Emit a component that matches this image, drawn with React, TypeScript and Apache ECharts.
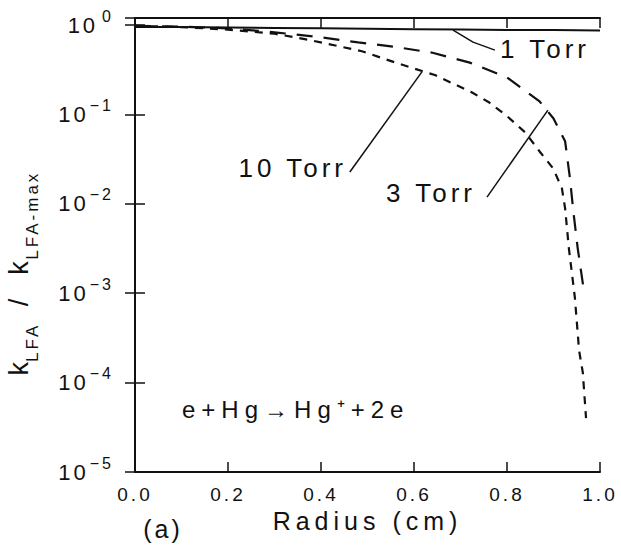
import React, { useEffect, useRef } from 'react';
import * as echarts from 'echarts';

// Normalized LFA ionization rate vs. radius, [radius (cm), k/kmax]
const torr1: number[][] = [
  [0, 0.95], [0.1, 0.95], [0.2, 0.94], [0.3, 0.93], [0.4, 0.92], [0.5, 0.91],
  [0.6, 0.9], [0.7, 0.89], [0.8, 0.88], [0.9, 0.88], [1.0, 0.87],
];
const torr3: number[][] = [
  [0, 0.98], [0.1, 0.96], [0.2, 0.92], [0.3, 0.83], [0.4, 0.73], [0.48, 0.64],
  [0.56, 0.57], [0.64, 0.49], [0.72, 0.38], [0.8, 0.26], [0.87, 0.14], [0.9, 0.09],
  [0.925, 0.05], [0.935, 0.02], [0.943, 0.008], [0.952, 0.0032], [0.965, 0.0011],
];
const torr10: number[][] = [
  [0, 0.98], [0.1, 0.95], [0.2, 0.89], [0.3, 0.8], [0.376, 0.68], [0.488, 0.51],
  [0.563, 0.376], [0.645, 0.276], [0.723, 0.178], [0.761, 0.137], [0.8, 0.096],
  [0.839, 0.063], [0.871, 0.038], [0.899, 0.025], [0.918, 0.015], [0.925, 0.0089],
  [0.933, 0.0032], [0.946, 0.00089], [0.955, 0.00023], [0.963, 0.00013], [0.97, 0.00004],
];

// Leader lines from each curve to its pressure label
const leader1: number[][] = [[0.684, 0.88], [0.727, 0.645], [0.774, 0.525]];
const leader3: number[][] = [[0.888, 0.112], [0.757, 0.0119]];
const leader10: number[][] = [[0.617, 0.3], [0.462, 0.0227]];

const xMin = 0;
const xMax = 1;
const xStep = 0.2;
const yMin = 1e-5;
const yMax = 1.2;

const FONT = 'Liberation Sans';
const INK = '#111';
const SPACING = 3; // default letter-spacing (px) for every SVG text

// wider tracking for the annotation texts
function trackingFor(s: string): number | null {
  if (s.includes('Torr')) return 4;
  if (s.startsWith('e+Hg')) return 6;
  if (s === 'Radius (cm)') return 5;
  return null;
}

function decadeLabel(v: number): string {
  const lg = Math.log10(v);
  const e = Math.round(lg);
  if (Math.abs(lg - e) > 0.01) return '';
  return `{b|10}{s|${e === 0 ? '0' : '\u2212' + -e}}`;
}

export default function App() {
  const ref = useRef<HTMLDivElement>(null);

  useEffect(() => {
    const el = ref.current;
    if (!el) return;
    const chart = echarts.init(el, null, { renderer: 'svg' });

    const axisLine = { show: true, lineStyle: { color: INK, width: 2 } };
    const tick = { show: true, inside: true, length: 10, lineStyle: { color: INK, width: 1.5 } };

    const leaderSeries = (data: number[][]) => ({
      type: 'line',
      data,
      symbol: 'none',
      silent: true,
      lineStyle: { color: INK, width: 1.5 },
    });

    const torrStyle = (text: string, align: string) => ({
      text, fontFamily: FONT, fontSize: 26, fill: INK, textAlign: align, textVerticalAlign: 'middle',
    });

    const applyTracking = () => {
      el.querySelectorAll('text').forEach((t) => {
        const sp = trackingFor(t.textContent || '');
        if (sp !== null) (t as SVGTextElement).style.letterSpacing = `${sp}px`;
      });
    };
    chart.on('rendered', applyTracking);

    chart.setOption({
      animation: false,
      backgroundColor: '#fff',
      grid: { left: 135, right: 21, top: 18, bottom: 76, show: false },
      xAxis: [
        {
          type: 'value', min: xMin, max: xMax, interval: xStep, position: 'bottom',
          axisLine, axisTick: tick, splitLine: { show: false },
          axisLabel: {
            formatter: (v: number) => v.toFixed(1), color: INK, fontFamily: FONT,
            fontSize: 19, margin: 13,
          },
          name: 'Radius (cm)', nameLocation: 'middle', nameGap: 36,
          nameTextStyle: { color: INK, fontFamily: FONT, fontSize: 25 },
        },
        {
          type: 'value', min: xMin, max: xMax, interval: xStep, position: 'top',
          axisLine, axisTick: tick, splitLine: { show: false }, axisLabel: { show: false },
        },
      ],
      yAxis: [
        {
          type: 'log', logBase: 10, min: yMin, max: yMax, position: 'left',
          axisLine, axisTick: tick, splitLine: { show: false }, minorTick: { show: false },
          axisLabel: {
            formatter: decadeLabel, margin: 21,
            rich: {
              b: { fontFamily: FONT, fontSize: 22, color: INK, verticalAlign: 'bottom', lineHeight: 22, padding: [0, 2 * SPACING + 1, 0, 0] },
              s: { fontFamily: FONT, fontSize: 16, color: INK, verticalAlign: 'bottom', lineHeight: 16, padding: [0, 0, 12, 0] },
            },
          },
        },
        {
          type: 'log', logBase: 10, min: yMin, max: yMax, position: 'right',
          axisLine, axisTick: tick, splitLine: { show: false }, axisLabel: { show: false },
        },
      ],
      series: [
        { type: 'line', name: '1 Torr', data: torr1, symbol: 'none', lineStyle: { color: INK, width: 2 } },
        { type: 'line', name: '3 Torr', data: torr3, symbol: 'none', lineStyle: { color: INK, width: 2.2, type: [16, 11] } },
        { type: 'line', name: '10 Torr', data: torr10, symbol: 'none', lineStyle: { color: INK, width: 2.2, type: [8, 7] } },
        leaderSeries(leader1),
        leaderSeries(leader3),
        leaderSeries(leader10),
      ],
      graphic: [
        { type: 'text', x: 500, y: 49, style: torrStyle('1 Torr', 'left') },
        { type: 'text', x: 347, y: 168, style: torrStyle('10 Torr', 'right') },
        { type: 'text', x: 386, y: 193, style: torrStyle('3 Torr', 'left') },
        {
          type: 'text', x: 182, y: 409,
          style: { text: 'e+Hg\u2192Hg\u207A+2e', fontFamily: FONT, fontSize: 24, fill: INK, textAlign: 'left', textVerticalAlign: 'middle' },
        },
        {
          type: 'text', x: 163, y: 529,
          style: { text: '(a)', fontFamily: FONT, fontSize: 25, fill: INK, textAlign: 'center', textVerticalAlign: 'middle' },
        },
        {
          type: 'text', x: 27, y: 267, rotation: Math.PI / 2,
          style: {
            text: '{k1|k}{s1|LFA}{k2|  /  k}{s2|LFA-max}',
            textAlign: 'center', textVerticalAlign: 'middle',
            rich: {
              k1: { fontFamily: FONT, fontSize: 27, fill: INK, verticalAlign: 'bottom', lineHeight: 27, padding: [0, SPACING, 8, 0] },
              s1: { fontFamily: FONT, fontSize: 17, fill: INK, verticalAlign: 'bottom', lineHeight: 17, padding: [0, SPACING * 3, 0, 0] },
              k2: { fontFamily: FONT, fontSize: 27, fill: INK, verticalAlign: 'bottom', lineHeight: 27, padding: [0, SPACING * 6, 8, 0] },
              s2: { fontFamily: FONT, fontSize: 17, fill: INK, verticalAlign: 'bottom', lineHeight: 17, padding: [0, SPACING * 7, 0, 0] },
            },
          },
        },
      ],
    });
    applyTracking();

    return () => chart.dispose();
  }, []);

  return (
    <div
      ref={ref}
      style={{ position: 'fixed', left: 0, top: 0, width: 621, height: 548, background: '#fff', letterSpacing: `${SPACING}px` }}
    />
  );
}
